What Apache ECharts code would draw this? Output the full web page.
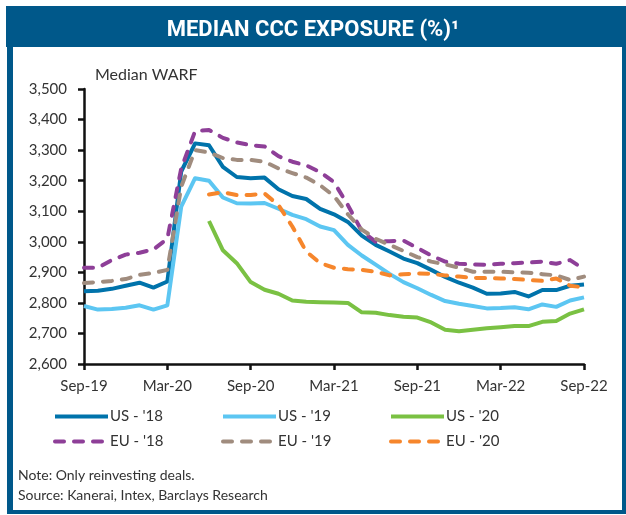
<!DOCTYPE html>
<html>
<head>
<meta charset="UTF-8">
<title>Median CCC exposure</title>
<script src="https://cdn.jsdelivr.net/npm/echarts@6/dist/echarts.min.js"></script>
<style>
  html, body { margin: 0; padding: 0; background: #fff; }
  #chart { width: 626px; height: 515px; }
</style>
</head>
<body>
<div id="chart"></div>
<script>
// monthly points, Sep-19 .. Sep-22
var months = ['Sep-19','Oct-19','Nov-19','Dec-19','Jan-20','Feb-20','Mar-20','Apr-20','May-20','Jun-20','Jul-20','Aug-20',
              'Sep-20','Oct-20','Nov-20','Dec-20','Jan-21','Feb-21','Mar-21','Apr-21','May-21','Jun-21','Jul-21','Aug-21',
              'Sep-21','Oct-21','Nov-21','Dec-21','Jan-22','Feb-22','Mar-22','Apr-22','May-22','Jun-22','Jul-22','Aug-22','Sep-22'];

var us18 = [2838,2840,2846,2856,2866,2850,2870,3230,3322,3316,3245,3212,
            3208,3210,3172,3150,3140,3108,3090,3065,3020,2990,2968,2945,
            2930,2908,2885,2866,2850,2830,2831,2836,2821,2842,2842,2856,2860];
var us19 = [2790,2778,2780,2784,2792,2778,2792,3115,3208,3200,3145,3126,
            3125,3127,3108,3088,3074,3050,3038,2990,2955,2925,2895,2868,
            2848,2826,2806,2797,2790,2782,2783,2786,2779,2795,2787,2808,2818];
var us20 = [null,null,null,null,null,null,null,null,null,3068,2972,2930,
            2868,2843,2830,2808,2804,2802,2801,2800,2769,2768,2760,2755,
            2752,2736,2712,2707,2712,2717,2720,2724,2724,2738,2741,2765,2779];
var eu18 = [2915,2915,2940,2958,2964,2975,3010,3240,3362,3366,3340,3325,
            3316,3312,3280,3262,3250,3228,3195,3120,3035,3000,3002,3004,
            2980,2955,2935,2928,2926,2925,2928,2930,2932,2935,2928,2940,2910];
var eu19 = [2865,2868,2872,2878,2892,2898,2908,3180,3300,3292,3274,3268,
            3268,3262,3240,3225,3210,3185,3150,3090,3040,3010,2990,2970,
            2950,2935,2926,2915,2902,2902,2902,2900,2899,2894,2890,2875,2886];
var eu20 = [null,null,null,null,null,null,null,null,null,3155,3162,3153,
            3153,3158,3120,3050,2968,2930,2915,2910,2908,2902,2890,2894,
            2896,2895,2890,2886,2882,2881,2880,2878,2875,2872,2880,2856,2851];

var names = ["US - '18", "US - '19", "US - '20", "EU - '18", "EU - '19", "EU - '20"];
var colors = ['#0073ab', '#5cc6f2', '#7ac143', '#8e3f98', '#a08c7e', '#f6862c'];
var values = [us18, us19, us20, eu18, eu19, eu20];

var frameBlue = '#00588a';
var textColor = '#333333';
var font = 'Lato';

var chart = echarts.init(document.getElementById('chart'));

var series = values.map(function (d, i) {
    var dashed = i >= 3;
    return {
        name: names[i],
        type: 'line',
        data: d,
        symbol: 'none',
        connectNulls: false,
        lineStyle: {
            color: colors[i],
            width: 4,
            type: dashed ? [9, 10] : 'solid',
            cap: dashed ? 'round' : 'butt',
            join: 'round'
        },
        itemStyle: { color: colors[i] },
        emphasis: { disabled: true },
        z: dashed ? 3 : 2
    };
});

// one legend per entry so the 3 columns line up
var colX = [53, 221, 389];
var rowY = [409, 434];
var legends = names.map(function (n, i) {
    return {
        data: [n],
        left: colX[i % 3],
        top: rowY[Math.floor(i / 3)],
        padding: 0,
        itemWidth: 53,
        itemHeight: 14,
        selectedMode: false,
        itemStyle: { color: 'rgba(0,0,0,0)', borderWidth: 0, opacity: 0 },
        lineStyle: { width: 4 },
        textStyle: { fontFamily: font, fontSize: 15, color: textColor, padding: [0, 0, 0, -3] }
    };
});

var option = {
    animation: false,
    backgroundColor: '#fff',
    title: {
        text: 'MEDIAN CCC EXPOSURE (%)¹',
        left: 'center',
        top: 14,
        textStyle: { color: '#fff', fontFamily: 'Roboto', fontWeight: 'bold', fontSize: 22 }
    },
    legend: legends,
    grid: { left: 84, right: 42, top: 89, bottom: 151, containLabel: false },
    xAxis: {
        type: 'category',
        data: months,
        boundaryGap: false,
        axisLine: { lineStyle: { color: '#111', width: 2.5 } },
        axisTick: { interval: 5, length: 6, lineStyle: { color: '#111', width: 2.5 } },
        axisLabel: { interval: 5, margin: 15, fontFamily: font, fontSize: 15, color: textColor },
        splitLine: { show: false }
    },
    yAxis: {
        type: 'value',
        min: 2600,
        max: 3500,
        interval: 100,
        axisLine: { show: true, lineStyle: { color: '#111', width: 2.5 } },
        axisTick: { show: true, length: 6, lineStyle: { color: '#111', width: 2.5 } },
        axisLabel: {
            margin: 17, fontFamily: font, fontSize: 15, color: textColor,
            formatter: function (v) { return v.toLocaleString('en-US'); }
        },
        splitLine: { show: false }
    },
    graphic: [
        // title bar and frame
        { type: 'rect', z: -1, shape: { x: 6, y: 6, width: 620, height: 41 }, style: { fill: frameBlue } },
        { type: 'rect', z: -1, shape: { x: 7, y: 40, width: 6, height: 474 }, style: { fill: frameBlue } },
        { type: 'rect', z: -1, shape: { x: 7, y: 510, width: 619, height: 4 }, style: { fill: frameBlue } },
        { type: 'rect', z: -1, shape: { x: 622, y: 40, width: 4, height: 474 }, style: { fill: frameBlue } },
        { type: 'text', left: 95, top: 67, style: { text: 'Median WARF', fontFamily: font, fontSize: 16, fill: textColor } },
        { type: 'text', left: 18, top: 468, style: { text: 'Note: Only reinvesting deals.', fontFamily: font, fontSize: 14, fill: textColor } },
        { type: 'text', left: 18, top: 488, style: { text: 'Source: Kanerai, Intex, Barclays Research', fontFamily: font, fontSize: 14, fill: textColor } }
    ],
    series: series
};

chart.setOption(option);
</script>
</body>
</html>
